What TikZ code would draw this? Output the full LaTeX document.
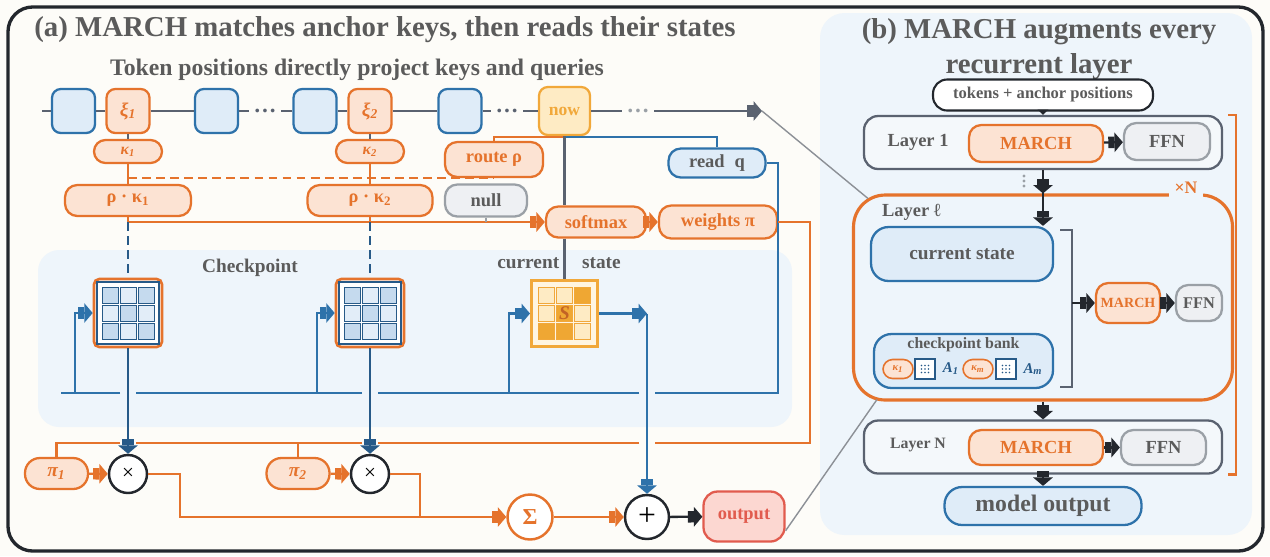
\documentclass[tikz,border=0pt]{standalone}
\usepackage{fontspec}
\setmainfont{Liberation Serif}
\usepackage{tikz}
\usetikzlibrary{arrows.meta,calc}

\definecolor{cBg}{HTML}{FDFCF8}
\definecolor{cDark}{HTML}{23272D}
\definecolor{cTxt}{HTML}{5B5B5B}
\definecolor{cGrayL}{HTML}{5A6270}
\definecolor{cGrayB}{HTML}{9AA0A6}
\definecolor{cGrayF}{HTML}{EEF0F3}
\definecolor{cOrange}{HTML}{E5732C}
\definecolor{cOrangeF}{HTML}{FCE3D3}
\definecolor{cBlue}{HTML}{2E72AA}
\definecolor{cBlueF}{HTML}{DFECF8}
\definecolor{cNavy}{HTML}{275A88}
\definecolor{cCellD}{HTML}{C5DAEE}
\definecolor{cCellL}{HTML}{E2EDF8}
\definecolor{cGold}{HTML}{F1A83A}
\definecolor{cGoldF}{HTML}{FEEBC4}
\definecolor{cGoldD}{HTML}{EFA733}
\definecolor{cRed}{HTML}{E15B4E}
\definecolor{cRedF}{HTML}{FCD7D1}
\definecolor{cPanel}{HTML}{EEF5FB}
\definecolor{cLayF}{HTML}{F4F8FB}
\definecolor{cZoom}{HTML}{8C9096}

\begin{document}
\begin{tikzpicture}[
    x=0.02cm, y=-0.02cm,
    font=\bfseries,
    fat_tip/.style={-{Rectangle[length=3.5pt,width=6.5pt]Triangle[length=4.8pt,width=11pt]}},
    seq_line/.style={draw=cGrayL, line width=1.4pt},
    org_line/.style={draw=cOrange, line width=1.2pt},
    blu_line/.style={draw=cBlue, line width=1.2pt},
    nav_line/.style={draw=cNavy, line width=1.2pt},
    blk_line/.style={draw=cDark, line width=1.3pt},
    brk_line/.style={draw=cGrayL, line width=1.5pt},
    zoom_line/.style={draw=cZoom, line width=0.8pt},
    title_txt/.style={text=cTxt, inner sep=1pt, font=\fontsize{16.4}{20}\selectfont\bfseries},
    sub_txt/.style={text=cTxt, inner sep=1pt, font=\fontsize{13.5}{15}\selectfont\bfseries},
    lbl_txt/.style={text=cTxt, inner sep=1pt, font=\fontsize{10.5}{12}\selectfont\bfseries},
    tok_box/.style={draw=cBlue, fill=cBlueF, line width=1.3pt, rounded corners=5pt, minimum width=0.86cm, minimum height=0.88cm, inner sep=0pt},
    anc_box/.style={tok_box, draw=cOrange, fill=cOrangeF, text=cOrange, font=\fontsize{11}{12}\selectfont\bfseries\itshape},
    now_box/.style={tok_box, draw=cGold, fill=cGoldF, text=cGold, minimum width=1.02cm, minimum height=0.96cm, font=\fontsize{10}{12}\selectfont\bfseries},
    dot_txt/.style={text=cGrayL, inner sep=2.5pt, font=\fontsize{13}{13}\selectfont\bfseries},
    org_box/.style={draw=cOrange, fill=cOrangeF, text=cOrange, line width=1.3pt, rounded corners=7pt, minimum height=0.62cm, inner sep=2pt, font=\fontsize{10.5}{12}\selectfont\bfseries},
    key_pill/.style={org_box, rounded corners=6.5pt, minimum width=1.36cm, minimum height=0.46cm, font=\fontsize{9}{10}\selectfont\bfseries\itshape},
    pi_pill/.style={org_box, rounded corners=8.5pt, minimum width=1.26cm, minimum height=0.62cm, font=\fontsize{11}{12}\selectfont\bfseries\itshape},
    null_box/.style={org_box, draw=cGrayB, fill=cGrayF, text=cTxt, minimum width=1.64cm, minimum height=0.64cm},
    read_box/.style={org_box, draw=cBlue, fill=cBlueF, text=cTxt, minimum width=1.94cm, minimum height=0.58cm},
    ckp_frame/.style={draw=cOrange, fill=white, line width=1.5pt, rounded corners=3pt, minimum size=1.36cm, inner sep=0pt},
    ckp_core/.style={draw=cNavy, line width=1.6pt, minimum size=1.24cm, inner sep=0pt},
    mat_cell/.style={draw=cNavy, line width=0.5pt, minimum size=0.32cm, inner sep=0pt},
    cur_frame/.style={draw=cGold, fill=cGoldF!50, line width=1.7pt, minimum size=1.32cm, inner sep=0pt},
    gold_cell/.style={draw=cGold, line width=0.5pt, minimum size=0.32cm, inner sep=0pt},
    op_circ/.style={circle, draw=cDark, fill=white, line width=1.4pt, minimum size=0.76cm, inner sep=0pt, font=\fontsize{12}{12}\selectfont\mdseries},
    sum_circ/.style={op_circ, draw=cOrange, text=cOrange, minimum size=0.9cm, font=\fontsize{13}{13}\selectfont\bfseries},
    out_box/.style={draw=cRed, fill=cRedF, text=cRed, line width=1.3pt, rounded corners=8pt, minimum width=1.62cm, minimum height=1.0cm, font=\fontsize{10.5}{12}\selectfont\bfseries},
    in_box/.style={draw=cDark, fill=white, text=cTxt, line width=1.2pt, rounded corners=8pt, minimum width=4.4cm, minimum height=0.62cm, font=\fontsize{9.4}{11}\selectfont\bfseries},
    layer_box/.style={draw=cGrayL, fill=cLayF, line width=1.3pt, rounded corners=8pt, minimum width=7.16cm, minimum height=1.06cm},
    lay_txt/.style={lbl_txt, font=\fontsize{10.5}{12}\selectfont\bfseries},
    march_box/.style={org_box, minimum width=2.68cm, minimum height=0.74cm},
    ffn_box/.style={null_box, minimum width=1.72cm, minimum height=0.74cm},
    layl_box/.style={draw=cOrange, line width=1.8pt, rounded corners=18pt, minimum width=7.58cm, minimum height=4.10cm},
    state_box/.style={draw=cBlue, fill=cBlueF, text=cTxt, line width=1.3pt, rounded corners=10pt, minimum width=3.64cm, minimum height=1.08cm, font=\fontsize{11}{12}\selectfont\bfseries},
    mini_pill/.style={draw=cOrange, fill=cOrangeF, text=cOrange, line width=0.9pt, rounded corners=5.5pt, minimum width=0.6cm, minimum height=0.38cm, inner sep=0pt, font=\fontsize{6}{6}\selectfont\bfseries\itshape},
    mini_mat/.style={draw=cNavy, fill=white, line width=1.3pt, minimum size=0.40cm, inner sep=0pt},
    a_txt/.style={text=cNavy, inner sep=0pt, font=\fontsize{8.5}{9}\selectfont\bfseries\itshape}
]
\useasboundingbox (0,0) rectangle (1270,556);
\fill[cBg] (0,0) rectangle (1270,556);
\draw[cDark, line width=1.9pt, rounded corners=14pt] (8,7) rectangle (1263,551);
\fill[cPanel, rounded corners=14pt] (820,13) rectangle (1252,535);
\fill[cPanel, rounded corners=12pt] (38,250) rectangle (792,427);

% titles
\node[title_txt] (ttla) at (385,30) {(a) MARCH matches anchor keys, then reads their states};
\node[sub_txt] (ttlsub) at (357,70) {Token positions directly project keys and queries};
\node[title_txt, align=center] (ttlb) at (1039,49) {(b) MARCH augments every\\recurrent layer};

% token sequence
\node[tok_box] (tok1) at (73.5,111) {};
\node[anc_box] (xi1) at (128,111) {ξ\textsubscript{1}};
\node[tok_box] (tok2) at (216.5,111) {};
\node[dot_txt] (dots1) at (265,111) {…};
\node[tok_box] (tok3) at (315,111) {};
\node[anc_box] (xi2) at (370,111) {ξ\textsubscript{2}};
\node[tok_box] (tok4) at (460,111) {};
\node[dot_txt] (dots2) at (507,111) {…};
\node[now_box] (now) at (564.5,111) {now};
\node[dot_txt, text=cGrayB] (dots3) at (638,111) {…};
\coordinate (seqstart) at (42,111);
\coordinate (seqend) at (762,111);
\draw[seq_line] (seqstart) -- (tok1) -- (xi1) -- (tok2) -- (dots1) -- (tok3) -- (xi2) -- (tok4) -- (dots2) -- (now) -- (dots3);
\draw[seq_line, fat_tip] (dots3) -- (seqend);

% keys, route, read
\node[key_pill] (kap1) at (128,151.5) {κ\textsubscript{1}};
\node[key_pill] (kap2) at (370,151.5) {κ\textsubscript{2}};
\node[org_box, minimum width=1.96cm, minimum height=0.70cm] (route) at (494,159.5) {route ρ};
\node[org_box, minimum width=2.52cm] (rk1) at (128,200.5) {ρ · κ\textsubscript{1}};
\node[org_box, minimum width=2.50cm] (rk2) at (370,200.5) {ρ · κ\textsubscript{2}};
\node[null_box] (null) at (486,200.5) {null};
\node[read_box] (readq) at (717,163) {read\hspace{3pt} q};
\node[org_box, minimum width=2.0cm] (softmax) at (596,222) {softmax};
\node[org_box, minimum width=2.36cm, minimum height=0.66cm] (weights) at (718,222) {weights π};

\coordinate (nowtap) at (564.5,137);
\draw[seq_line] (xi1) -- (kap1);
\draw[seq_line] (xi2) -- (kap2);
\draw[org_line] (kap1) -- (rk1);
\draw[org_line] (kap2) -- (rk2);
\draw[org_line, dash pattern=on 5pt off 3pt] (kap1.south |- route.south) -- (route.south);
\draw[org_line] (nowtap) -| (route.north);
\draw[blu_line] (nowtap) -| (readq.north);
\draw[seq_line] (now.south) -- (now.south |- softmax.north);
\draw[org_line, fat_tip] (rk1.south) |- (softmax.west);
\draw[org_line] (rk2.south) -- (rk2.south |- softmax.west);
\draw[seq_line, draw=cGrayB, line width=1pt] (null.south) -- (null.south |- softmax.west);
\draw[org_line, fat_tip] (softmax) -- (weights);

% checkpoints and current state
\node[lbl_txt, font=\fontsize{11}{12}\selectfont\bfseries] (ckplbl) at (250,268) {Checkpoint};
\node[lbl_txt, font=\fontsize{11}{12}\selectfont\bfseries] (curlbl) at (559,263) {current\hspace{13pt}state};

\node[ckp_frame] (ckp1) at (128,313) {};
\node[ckp_core] at (ckp1) {};
\foreach \dx/\dy/\cc in {-18/-18/cCellD, 0/-18/cCellL, 18/-18/cCellD, -18/0/cCellL, 0/0/cCellD, 18/0/cCellL, -18/18/cCellD, 0/18/cCellL, 18/18/cCellD}
    \node[mat_cell, fill=\cc] at ($(ckp1)+(\dx,\dy)$) {};

\node[ckp_frame] (ckp2) at (370,313) {};
\node[ckp_core] at (ckp2) {};
\foreach \dx/\dy/\cc in {-18/-18/cCellD, 0/-18/cCellL, 18/-18/cCellD, -18/0/cCellL, 0/0/cCellD, 18/0/cCellL, -18/18/cCellD, 0/18/cCellL, 18/18/cCellD}
    \node[mat_cell, fill=\cc] at ($(ckp2)+(\dx,\dy)$) {};

\node[cur_frame] (cur) at (564.5,313.5) {};
\foreach \dx/\dy/\cc in {-18/-18/cGoldF, 0/-18/cGoldF, 18/-18/cGoldD, -18/0/cGoldF, 18/0/cGoldF, -18/18/cGoldD, 0/18/cGoldD, 18/18/cGoldF}
    \node[gold_cell, fill=\cc] at ($(cur)+(\dx,\dy)$) {};
\node[gold_cell, fill=cGoldD, text=cOrange!85!black, font=\fontsize{11}{11}\selectfont\bfseries\itshape] (smark) at (cur) {S};

\draw[seq_line] (softmax.south -| now.south) -- (cur.north);
\draw[nav_line, dash pattern=on 5pt off 3pt] (rk1.south |- softmax.west) -- (ckp1.north);
\draw[nav_line, dash pattern=on 5pt off 3pt] (rk2.south |- softmax.west) -- (ckp2.north);

% read bus
\coordinate (busR) at (778,393);
\coordinate (sout) at (647,313.5);
\draw[blu_line] (readq.east) -| (busR) -- ($(sout |- busR)+(8,0)$);
\draw[blu_line] ($(sout |- busR)+(-8,0)$) -- ($(ckp2.south |- busR)+(8,0)$);
\draw[blu_line] ($(ckp2.south |- busR)+(-8,0)$) -- ($(ckp1.south |- busR)+(8,0)$);
\draw[blu_line] ($(ckp1.south |- busR)+(-8,0)$) -- ($(ckp1.south |- busR)+(-67,0)$);
\draw[blu_line, fat_tip] ($(ckp1.west |- busR)+(-18,0)$) |- (ckp1.west);
\draw[blu_line, fat_tip] ($(ckp2.west |- busR)+(-18,0)$) |- (ckp2.west);
\draw[blu_line, fat_tip] ($(cur.west |- busR)+(-21,0)$) |- (cur.west);

% combine
\node[pi_pill] (pi1) at (56.5,473.5) {π\textsubscript{1}};
\node[op_circ] (mul1) at (128,474) {×};
\node[pi_pill] (pi2) at (298,473.5) {π\textsubscript{2}};
\node[op_circ] (mul2) at (370,474) {×};
\node[sum_circ] (sum) at (530,517) {Σ};
\node[op_circ, minimum size=0.88cm, font=\fontsize{18}{18}\selectfont\mdseries] (plus) at (647,517) {+};
\node[out_box] (output) at (744,516.5) {output};

\draw[nav_line, fat_tip] (ckp1) -- (mul1);
\draw[nav_line, fat_tip] (ckp2) -- (mul2);
\draw[blu_line, fat_tip] (cur.east) -- (sout);
\draw[blu_line, fat_tip] (sout) -- (plus);

\coordinate (piR) at (810,443);
\draw[org_line] (weights.east) -| (piR) -- ($(plus.north |- piR)+(8,0)$);
\draw[org_line] ($(plus.north |- piR)+(-8,0)$) -- ($(mul2.north |- piR)+(8,0)$);
\draw[org_line] ($(mul2.north |- piR)+(-8,0)$) -- ($(mul1.north |- piR)+(8,0)$);
\draw[org_line] ($(mul1.north |- piR)+(-8,0)$) -| (pi1.north);
\draw[org_line] (pi2.north) -- (pi2.north |- piR);
\draw[org_line, fat_tip] (pi1) -- (mul1);
\draw[org_line, fat_tip] (pi2) -- (mul2);

\coordinate (join1) at (180,517);
\coordinate (join2) at (420,517);
\draw[org_line, fat_tip] (mul1.east) -| (join1) -- (sum.west);
\draw[org_line] (mul2.east) -| (join2);
\draw[org_line, fat_tip] (sum) -- (plus);
\draw[blk_line, fat_tip] (plus) -- (output);

% panel (b)
\node[in_box] (tokin) at (1043,95) {tokens + anchor positions};
\node[layer_box] (lay1) at (1043,142.5) {};
\node[lay_txt] (lay1lbl) at (918,142) {Layer 1};
\node[march_box] (march1) at (1036,143.5) {MARCH};
\node[ffn_box] (ffn1) at (1167,141.5) {FFN};
\draw[blk_line, -{Triangle[length=3pt,width=6pt]}] (tokin) -- (lay1);
\draw[blk_line, fat_tip] (march1) -- (ffn1);
\foreach \yy in {176,181,186}
    \fill[cGrayB] (1024,\yy) circle (0.9pt);

\node[layl_box] (layl) at (1043,297.5) {};
\node[lbl_txt, anchor=west] (layllbl) at (880,212) {Layer ℓ};
\node[state_box] (curst) at (962,254) {current state};
\node[state_box, minimum width=3.58cm] (bank) at (963.5,361) {};
\node[lbl_txt, font=\fontsize{9}{10}\selectfont\bfseries] (banklbl) at (963.5,345) {checkpoint bank};
\node[mini_pill] (bk1) at (898,369) {κ\textsubscript{1}};
\node[mini_mat] (bm1) at (925,369) {};
\node[a_txt] (ba1) at (951,369) {A\textsubscript{1}};
\node[mini_pill] (bk2) at (978,369) {κ\textsubscript{m}};
\node[mini_mat] (bm2) at (1006,369) {};
\node[a_txt] (ba2) at (1033,369) {A\textsubscript{m}};
\foreach \mm in {bm1,bm2}
    \foreach \dx in {-3.5,0,3.5}
        \foreach \dy in {-3.5,0,3.5}
            \fill[cNavy] ($(\mm)+(\dx,\dy)$) circle (0.5pt);
\node[march_box, minimum width=1.28cm, minimum height=0.80cm, inner sep=0pt, font=\fontsize{8}{9}\selectfont\bfseries] (marchl) at (1128,303) {MARCH};
\node[ffn_box, minimum width=0.92cm, minimum height=0.72cm, inner sep=0pt, font=\fontsize{9.3}{10}\selectfont\bfseries] (ffnl) at (1199,303) {FFN};
\coordinate (brT) at (1060,230);
\coordinate (brB) at (1060,387);
\coordinate (brM) at (1072,303);
\draw[brk_line] (brT) -- ++(12,0) |- (brB);
\draw[blk_line, fat_tip] (brM) -- (marchl);
\draw[blk_line, fat_tip] (marchl) -- (ffnl);
\draw[blk_line, fat_tip] (lay1.south) -- (lay1.south |- layl.north);
\draw[blk_line, fat_tip] (lay1.south |- layl.north) -- (lay1.south |- curst.north);
\node[text=cOrange, fill=cPanel, inner sep=3pt, font=\fontsize{10}{11}\selectfont\bfseries] (xn) at (1186,188) {×N};

\node[layer_box] (layN) at (1043,447) {};
\node[lay_txt, font=\fontsize{9}{10}\selectfont\bfseries] (layNlbl) at (918,445) {Layer N};
\node[march_box, minimum height=0.70cm] (marchN) at (1036,447.5) {MARCH};
\node[ffn_box, minimum width=1.70cm, minimum height=0.70cm] (ffnN) at (1163.5,447.5) {FFN};
\draw[blk_line, fat_tip] (marchN) -- (ffnN);
\draw[blk_line, fat_tip] (layl.south) -- (layN.north);
\node[state_box, minimum width=3.94cm, minimum height=0.76cm, font=\fontsize{13.5}{14}\selectfont\bfseries] (modelout) at (1043,506) {model output};
\draw[blk_line, fat_tip] (layN) -- (modelout);

\draw[org_line, line width=1.4pt] ($(lay1.north east)+(5,0)$) -- ++(8,0) |- ($(layN.south east)+(5,0)$);

% zoom guides
\draw[zoom_line] (seqend) -- ($(layl.north west)+(16,5)$);
\draw[zoom_line] ($(output.south east)+(0,-12)$) -- ($(layl.south west)+(25,-2)$);
\end{tikzpicture}
\end{document}
